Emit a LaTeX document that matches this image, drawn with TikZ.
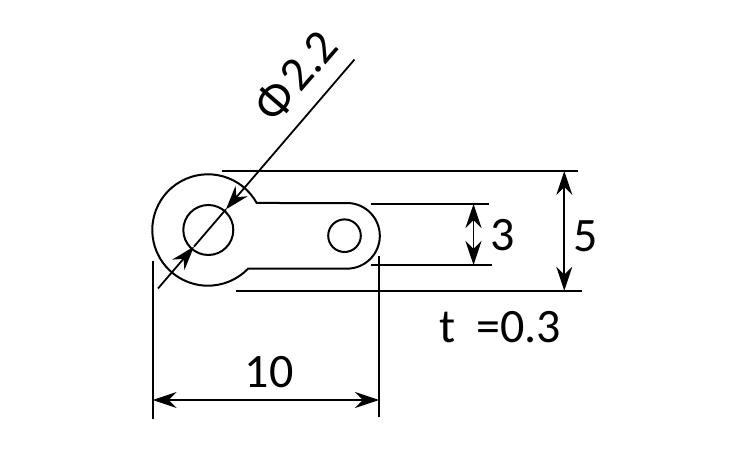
\documentclass[tikz,border=0pt]{standalone}
\usepackage{fontspec}
\setmainfont{Carlito}
\usetikzlibrary{arrows.meta}
\tikzset{
  part/.style={line width=2pt,black},
  dimline/.style={line width=1.8pt,black},
  dimarrow/.style={line width=1.8pt,black,{Stealth[length=24pt,width=16pt,inset=8pt]}-{Stealth[length=24pt,width=16pt,inset=8pt]}},
  onearrow/.style={line width=1.8pt,black,-{Stealth[length=24pt,width=16pt,inset=8pt]}},
  lbl/.style={inner sep=0pt,font=\fontsize{48}{48}\selectfont}
}
\begin{document}
\begin{tikzpicture}[x=1pt,y=1pt]
\useasboundingbox (0,0) rectangle (750,450);
\fill[white] (0,0) rectangle (750,450);
% part
\coordinate (c1) at (208.3,220);
\coordinate (c2) at (344.5,214.3);
\draw[part] (256.7,247) arc[start angle=29,end angle=316,radius=55.7]
  -- (347,181.35) arc[start angle=-90,end angle=90,radius=32.82] -- cycle;
\node[part,draw,circle,minimum size=50pt,inner sep=0pt] (hole) at (c1) {};
\node[part,draw,circle,minimum size=32.6pt,inner sep=0pt] (smallhole) at (c2) {};
% extension lines
\coordinate (t1) at (222,279); \coordinate (t2) at (578,279);
\coordinate (b1) at (236,159.3); \coordinate (b2) at (582,159.3);
\coordinate (u1) at (371,246); \coordinate (u2) at (489,246);
\coordinate (l1) at (371,185); \coordinate (l2) at (492,185);
\coordinate (e1) at (152.7,189); \coordinate (e2) at (152.7,31);
\coordinate (f1) at (379,194); \coordinate (f2) at (379,33);
\draw[dimline] (t1) -- (t2);
\draw[dimline] (b1) -- (b2);
\draw[dimline] (u1) -- (u2);
\draw[dimline] (l1) -- (l2);
\draw[dimline] (e1) -- (e2);
\draw[dimline] (f1) -- (f2);
% dimensions
\coordinate (d3a) at (473.5,246); \coordinate (d3b) at (473.5,185);
\coordinate (d5a) at (564.3,279); \coordinate (d5b) at (564.3,159.3);
\coordinate (d10a) at (152.7,50); \coordinate (d10b) at (379,50);
\draw[dimarrow] (d3a) -- (d3b);
\draw[dimarrow] (d5a) -- (d5b);
\draw[dimarrow] (d10a) -- (d10b);
% diameter
\coordinate (p1) at (354.5,390.5);
\coordinate (p2) at (226,240.7);
\coordinate (p3) at (194,203.4);
\coordinate (p4) at (158,161.5);
\draw[onearrow] (p1) -- (p2);
\draw[onearrow] (p4) -- (p3);
\draw[dimline] (p2) -- (p3);
% labels
\node[lbl] (n10) at (269,78) {10};
\node[lbl] (n3) at (502.5,214.5) {3};
\node[lbl] (n5) at (586,213.5) {5};
\node[lbl,anchor=west] (nt) at (439,123) {t\hspace{21pt}=0.3};
\node[lbl,rotate=49] (nphi) at (296,374) {Φ\hspace{4pt}2.2};
\end{tikzpicture}
\end{document}
